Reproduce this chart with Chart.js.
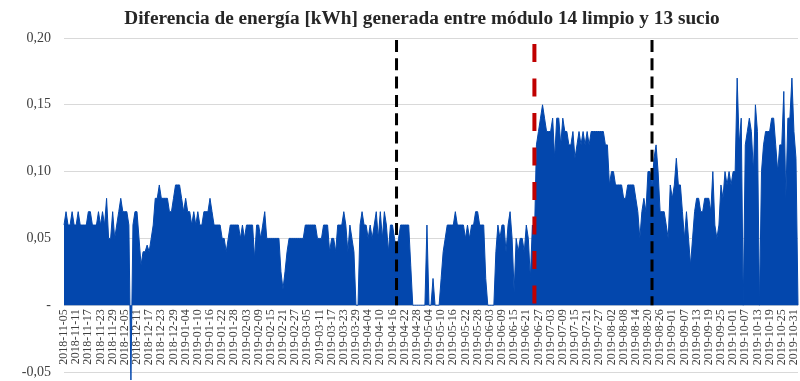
<!DOCTYPE html>
<html>
<head>
<meta charset="utf-8">
<script src="https://cdn.jsdelivr.net/npm/chart.js@4/dist/chart.umd.min.js"></script>
<style>
  html, body { margin: 0; padding: 0; background: #ffffff; }
  #wrap { width: 800px; height: 381px; position: relative; }
</style>
</head>
<body>
<div id="wrap"><canvas id="c" width="800" height="381"></canvas></div>
<script>
// ---- DATA ----
const chartTitle = 'Diferencia de energía [kWh] generada entre módulo 14 limpio y 13 sucio';
const startDate = '2018-11-05';
const dayCount = 363;
// daily energy difference [kWh], 2018-11-05 .. 2019-11-02
const diffValues = [
  0.06,0.07,0.06,0.06,0.07,0.06,0.06,0.07,0.06,0.06,
  0.06,0.06,0.07,0.07,0.06,0.06,0.06,0.07,0.06,0.07,
  0.06,0.08,0.05,0.05,0.07,0.05,0.06,0.07,0.08,0.07,
  0.07,0.07,0.06,-0.056,0.06,0.07,0.07,0.05,0.03,0.04,
  0.04,0.045,0.04,0.05,0.06,0.08,0.08,0.09,0.08,0.08,
  0.08,0.08,0.07,0.07,0.08,0.09,0.09,0.09,0.08,0.07,
  0.08,0.07,0.07,0.06,0.07,0.06,0.07,0.06,0.06,0.07,
  0.07,0.07,0.08,0.07,0.06,0.06,0.06,0.06,0.05,0.05,
  0.04,0.05,0.06,0.06,0.06,0.06,0.06,0.05,0.06,0.05,
  0.06,0.06,0.06,0.06,0.035,0.06,0.06,0.05,0.06,0.07,
  0.05,0.05,0.05,0.05,0.05,0.05,0.05,0.025,0.012,0.025,
  0.04,0.05,0.05,0.05,0.05,0.05,0.05,0.05,0.05,0.06,
  0.06,0.06,0.06,0.06,0.06,0.05,0.05,0.05,0.06,0.06,
  0.06,0.04,0.05,0.05,0.04,0.06,0.06,0.06,0.07,0.06,
  0.04,0.06,0.05,0.04,0,0,0.06,0.07,0.06,0.06,
  0.05,0.06,0.05,0.06,0.07,0.05,0.07,0.05,0.07,0.06,
  0.04,0.06,0.06,0.05,0.04,0.05,0.06,0.06,0.06,0.06,
  0.06,0.03,0,0,0,0,0,0,0,0.06,
  0,0,0.02,0,0,0,0.02,0.04,0.05,0.06,
  0.06,0.06,0.06,0.07,0.06,0.06,0.06,0.06,0.05,0.06,
  0.05,0.06,0.06,0.07,0.07,0.06,0.06,0.06,0.02,0,
  0,0,0,0.04,0.06,0.05,0.06,0.06,0.04,0.06,
  0.07,0.05,0.01,0.05,0.04,0.05,0.05,0.04,0.06,0.05,
  0.02,0.06,0.05,0.12,0.13,0.14,0.15,0.14,0.13,0.13,
  0.13,0.14,0.11,0.14,0.14,0.12,0.14,0.13,0.13,0.12,
  0.12,0.13,0.11,0.12,0.13,0.12,0.13,0.12,0.13,0.12,
  0.13,0.13,0.13,0.13,0.13,0.13,0.13,0.12,0.12,0.09,
  0.10,0.10,0.09,0.09,0.09,0.09,0.08,0.08,0.09,0.09,
  0.09,0.09,0.08,0.07,0.05,0.07,0.08,0.07,0.10,0.10,
  0.09,0.11,0.12,0.10,0.07,0.07,0.07,0.06,0.05,0.09,
  0.08,0.09,0.11,0.09,0.09,0.07,0.05,0.07,0.05,0.03,
  0.05,0.07,0.08,0.08,0.07,0.07,0.08,0.08,0.08,0.07,
  0.10,0.06,0.05,0.06,0.09,0.08,0.10,0.09,0.10,0.09,
  0.10,0.10,0.17,0.12,0.14,0,0.12,0.13,0.14,0.13,
  0.10,0.15,0.13,0,0.10,0.12,0.13,0.13,0.13,0.14,
  0.14,0.12,0.10,0.12,0.12,0.16,0.08,0.14,0.14,0.17,
  0.13,0.11,0
];
const markerDates = ['2019-04-18', '2019-06-25', '2019-08-22'];
const markerColors = ['#000000', '#C00000', '#000000'];
const yTicks = [-0.05, 0, 0.05, 0.10, 0.15, 0.20];
const labelEvery = 6;

// ---- categories (daily dates) ----
const categories = [];
{
  const d0 = new Date(startDate + 'T00:00:00Z');
  for (let i = 0; i < dayCount; i++) {
    const d = new Date(d0.getTime() + i * 86400000);
    categories.push(d.toISOString().slice(0, 10));
  }
}

const SERIF = "'Liberation Serif', 'Times New Roman', serif";

const titlePlugin = {
  id: 'titleText',
  afterDraw(chart) {
    const ctx = chart.ctx;
    ctx.save();
    ctx.font = "bold 19.3px " + SERIF;
    ctx.fillStyle = '#262626';
    ctx.textAlign = 'center';
    ctx.textBaseline = 'alphabetic';
    ctx.fillText(chartTitle, 422, 24);
    ctx.restore();
  }
};

const markerPlugin = {
  id: 'markers',
  afterDatasetsDraw(chart) {
    const ctx = chart.ctx;
    const xs = chart.scales.x, ys = chart.scales.y;
    markerDates.forEach((dt, i) => {
      const idx = categories.indexOf(dt);
      if (idx < 0) return;
      const x = xs.getPixelForValue(idx);
      const red = markerColors[i] !== '#000000';
      ctx.save();
      ctx.strokeStyle = markerColors[i];
      ctx.lineWidth = red ? 4 : 3;
      ctx.setLineDash(red ? [18, 16.5] : [12, 6.3]);
      ctx.beginPath();
      ctx.moveTo(x, red ? ys.getPixelForValue(0.2) + 6 : ys.getPixelForValue(0.2) + 2);
      ctx.lineTo(x, ys.getPixelForValue(0));
      ctx.stroke();
      ctx.restore();
    });
  }
};

new Chart(document.getElementById('c'), {
  type: 'line',
  data: {
    labels: categories,
    datasets: [{
      data: diffValues,
      fill: 'origin',
      backgroundColor: '#0347AD',
      borderColor: '#0347AD',
      borderWidth: 1,
      pointRadius: 0,
      tension: 0,
      clip: false
    }]
  },
  options: {
    responsive: false,
    animation: false,
    events: [],
    layout: { padding: { top: 38, bottom: 9, left: 0, right: 2 } },
    plugins: {
      legend: { display: false },
      title: { display: false },
      tooltip: { enabled: false },
      filler: { drawTime: 'beforeDatasetsDraw' }
    },
    scales: {
      x: {
        type: 'category',
        position: { y: 0 },
        offset: false,
        afterFit(s) { s.paddingLeft = 0; s.paddingRight = 0; s.paddingTop = 0; s.paddingBottom = 0; },
        grid: { display: false, drawTicks: false },
        border: { display: false },
        ticks: {
          autoSkip: false,
          minRotation: 90,
          maxRotation: 90,
          padding: 4,
          color: '#404040',
          font: { family: SERIF, size: 12 },
          callback: function (val, idx) {
            return idx % labelEvery === 0 ? categories[idx] : null;
          }
        }
      },
      y: {
        min: -0.05,
        max: 0.20,
        afterFit(s) { s.width = 64; s.paddingTop = 0; s.paddingBottom = 0; },
        afterBuildTicks(s) { s.ticks = yTicks.map(v => ({ value: v })); },
        grid: { color: '#d9d9d9', lineWidth: 1, drawTicks: false },
        border: { display: false },
        ticks: {
          padding: 13,
          color: '#404040',
          font: { family: SERIF, size: 14 },
          callback: function (v) {
            if (Math.abs(v) < 1e-9) return '-';
            return v.toFixed(2).replace('.', ',');
          }
        }
      }
    }
  },
  plugins: [titlePlugin, markerPlugin]
});
</script>
</body>
</html>
